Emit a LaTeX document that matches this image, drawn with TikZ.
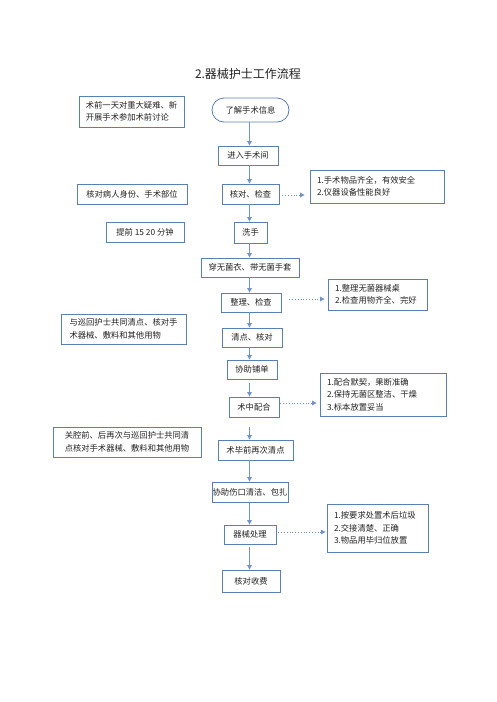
\documentclass[tikz,border=0pt]{standalone}
\usepackage{fontspec}
\setmainfont{Noto Sans CJK SC}
\usetikzlibrary{arrows.meta}
\definecolor{boxc}{HTML}{5B7FB5}
\definecolor{arrc}{HTML}{7393C6}
\definecolor{txtc}{HTML}{222222}
\tikzset{
  box/.style={draw=boxc, line width=0.8pt, inner sep=0pt, text=txtc,
    font=\fontsize{8.3}{12.5}\selectfont, align=center},
  sz/.style 2 args={minimum width=#1pt, minimum height=#2pt},
  lbox/.style={box, align=left},
  rbox/.style={box, align=left, inner xsep=7pt},
  term/.style={box, rounded corners=12pt},
  flow/.style={draw=arrc, line width=0.9pt, -{Triangle[length=4.5pt,width=4.5pt]}},
  side/.style={draw=arrc, line width=0.8pt, dotted, -{Triangle[length=4.5pt,width=4.5pt]}},
}
\begin{document}
\begin{tikzpicture}[x=1pt,y=-1pt]
\useasboundingbox[fill=white] (0,0) rectangle (496,702);
\node[text=txtc, font=\fontsize{12}{14}\selectfont] (title) at (248,74) {2.器械护士工作流程};
\coordinate (sp) at (249.5,0);
% main column
\node[term, sz={77}{24}] (n1) at (250.5,110) {了解手术信息};
\node[box, sz={60}{19}] (n2) at (248,155.5) {进入手术间};
\node[box, sz={57}{20}] (n3) at (250.5,194) {核对、检查};
\node[box, sz={33}{21}] (n4) at (250.5,232.5) {洗手};
\node[box, sz={98}{19}] (n5) at (250,267.5) {穿无菌衣、带无菌手套};
\node[box, sz={60}{19}] (n6) at (251,302.5) {整理、检查};
\node[box, sz={60}{19}] (n7) at (252,337.5) {清点、核对};
\node[box, sz={50}{19}] (n8) at (252,369.5) {协助铺单};
\node[box, sz={50}{20}] (n9) at (254,407) {术中配合};
\node[box, sz={75}{20}] (n10) at (255.5,450) {术毕前再次清点};
\node[box, sz={76}{20}] (n11) at (250,492) {协助伤口清洁、包扎};
\node[box, sz={52}{19}] (n12) at (250,534.5) {器械处理};
\node[box, sz={58}{22}] (n13) at (251,581) {核对收费};
% left notes
\node[lbox, sz={105}{31}] (l1) at (131.5,111.5) {术前一天对重大疑难、新\\开展手术参加术前讨论};
\node[box, sz={110}{20}] (l2) at (132,194) {核对病人身份、手术部位};
\node[box, sz={78}{20}] (l3) at (145,232) {提前 15 20 分钟};
\node[lbox, sz={125}{30}] (l4) at (123.5,329) {与巡回护士共同清点、核对手\\术器械、敷料和其他用物};
\node[lbox, sz={148}{30}] (l5) at (127,442) {关腔前、后再次与巡回护士共同清\\点核对手术器械、敷料和其他用物};
% right notes
\node[rbox, sz={134}{33}, text width=120pt] (r1) at (377,186.5) {1.手术物品齐全，有效安全\\2.仪器设备性能良好};
\node[rbox, sz={99}{31}, text width=85pt] (r2) at (377.5,294.5) {1.整理无菌器械桌\\2.检查用物齐全、完好};
\node[rbox, sz={126}{43}, text width=112pt] (r3) at (383,394.5) {1.配合默契，果断准确\\2.保持无菌区整洁、干燥\\3.标本放置妥当};
\node[rbox, sz={101}{48}, text width=87pt] (r4) at (377.5,528) {1.按要求处置术后垃圾\\2.交接清楚、正确\\3.物品用毕归位放置};
% main flow
\draw[flow] (n1.south -| sp) -- (n2.north -| sp);
\draw[flow] (n2.south -| sp) -- (n3.north -| sp);
\draw[flow] (n3.south -| sp) -- (n4.north -| sp);
\draw[flow] (n4.south -| sp) -- (n5.north -| sp);
\draw[flow] (n5.south -| sp) -- (n6.north -| sp);
\draw[flow] (n6.south -| sp) -- (n7.north -| sp);
\draw[flow] (n7.south -| sp) -- (n8.north -| sp);
\draw[flow, shorten <=4pt] (n8.south -| sp) -- (n9.north -| sp);
\draw[flow, shorten <=10pt] (n9.south -| sp) -- (n10.north -| sp);
\draw[flow] (n10.south -| sp) -- (n11.north -| sp);
\draw[flow] (n11.south -| sp) -- (n12.north -| sp);
\draw[flow, shorten <=3pt] (n12.south -| sp) -- (n13.north -| sp);
% side connectors
\draw[side, shorten <=3pt, shorten >=5pt] ([yshift=-1pt]n3.east) -- ([yshift=-1pt]n3.east -| r1.west);
\draw[side, shorten <=8pt, shorten >=3pt] ([yshift=3.5pt]n6.east) -- ([yshift=3.5pt]n6.east -| r2.west);
\draw[side, shorten <=1pt, shorten >=3pt] ([yshift=4pt]n9.east) -- ([yshift=4pt]n9.east -| r3.west);
\draw[side, shorten <=2pt, shorten >=1pt] ([yshift=2.5pt]n12.east) -- ([yshift=2.5pt]n12.east -| r4.west);
\end{tikzpicture}
\end{document}
